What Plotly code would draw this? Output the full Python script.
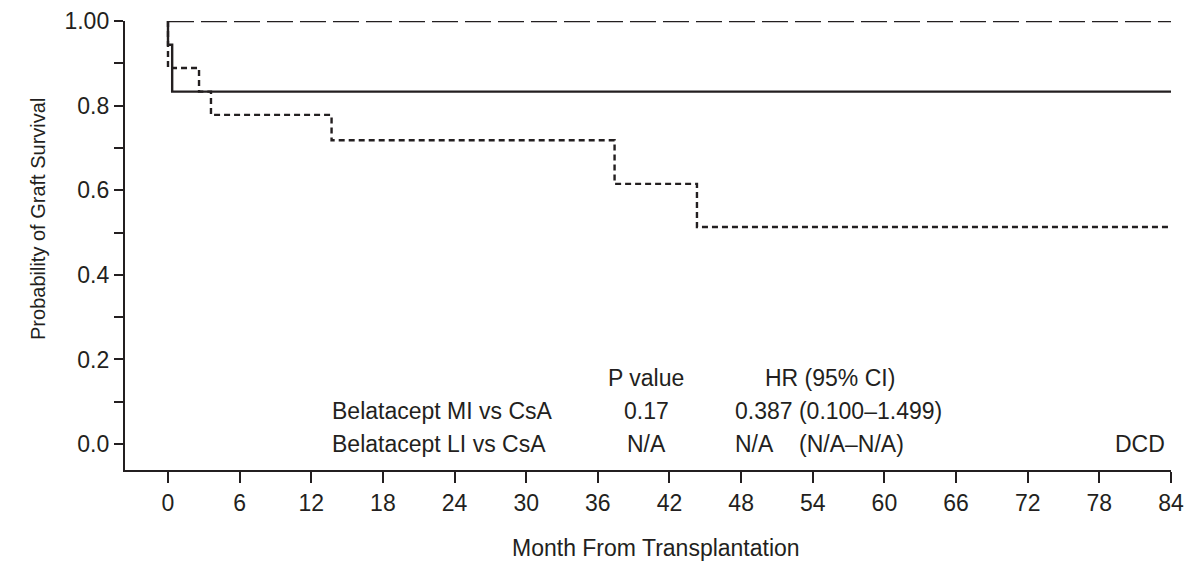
import plotly.graph_objects as go

# Kaplan-Meier step data (months, survival probability)
mi_t = [0, 0, 0.35, 84]
mi_s = [1.0, 0.944, 0.833, 0.833]

li_t = [0, 84]
li_s = [1.0, 1.0]

csa_t = [0, 0, 2.6, 3.6, 13.7, 37.4, 44.3, 84]
csa_s = [1.0, 0.889, 0.833, 0.778, 0.718, 0.615, 0.513, 0.513]

x_ticks = list(range(0, 85, 6))
y_tickvals = [i / 10 for i in range(11)]
y_ticktext = ["0.0", "", "0.2", "", "0.4", "", "0.6", "", "0.8", "", "1.00"]

table_rows = ["Belatacept MI vs CsA", "Belatacept LI vs CsA"]
p_values = ["0.17", "N/A"]
hr_values = ["0.387 (0.100–1.499)", "N/A"]
ci_na = "(N/A–N/A)"

FONT = "Liberation Sans, Arial, Helvetica, sans-serif"
INK = "#231f20"
FS = 23

fig = go.Figure()
fig.add_trace(go.Scatter(x=li_t, y=li_s, mode="lines", line_shape="hv", name="Belatacept LI",
                         line=dict(color=INK, width=2.4, dash="26px,7px"), cliponaxis=False))
fig.add_trace(go.Scatter(x=csa_t, y=csa_s, mode="lines", line_shape="hv", name="CsA",
                         line=dict(color=INK, width=2.4, dash="6px,4px"), cliponaxis=False))
fig.add_trace(go.Scatter(x=mi_t, y=mi_s, mode="lines", line_shape="hv", name="Belatacept MI",
                         line=dict(color=INK, width=2.4), cliponaxis=False))

ann = []
def txt(x, y, s, xa="left", xref="x", yref="y", angle=0, size=FS):
    ann.append(dict(x=x, y=y, xref=xref, yref=yref, text=s, showarrow=False,
                    xanchor=xa, yanchor="middle", textangle=angle,
                    font=dict(family=FONT, size=size, color=INK)))

txt(40.05, 0.157, "P value", "center")
txt(55.47, 0.157, "HR (95% CI)", "center")
txt(13.6, 0.079, table_rows[0])
txt(13.6, 0.0, table_rows[1])
txt(40.05, 0.079, p_values[0], "center")
txt(40.05, 0.0, p_values[1], "center")
txt(47.35, 0.079, hr_values[0])
txt(47.35, 0.0, hr_values[1])
txt(52.7, 0.0, ci_na)
txt(83.7, 0.0, "DCD", "right")
txt(0.508, -0.1744, "Month From Transplantation", "center", "paper", "paper")
txt(-0.0832, 0.559, "Probability of Graft Survival", "center", "paper", "paper", -90, 20)

fig.update_layout(
    width=1186, height=564,
    margin=dict(l=125, r=15.3, t=20.5, b=93.5, autoexpand=False),
    paper_bgcolor="white", plot_bgcolor="white",
    showlegend=False,
    font=dict(family=FONT, size=FS, color=INK),
    annotations=ann,
    xaxis=dict(range=[-3.6, 84], tickvals=x_ticks, showline=True, linecolor=INK, linewidth=2.4,
               ticks="outside", ticklen=11, tickwidth=2.4, tickcolor=INK, showgrid=False,
               zeroline=False, automargin=False, tickfont=dict(family=FONT, size=FS, color=INK)),
    yaxis=dict(range=[-0.0613, 1.0], tickvals=y_tickvals, ticktext=y_ticktext, showline=True,
               linecolor=INK, linewidth=2.4, ticks="outside", ticklen=9, tickwidth=2.4,
               tickcolor=INK, showgrid=False, zeroline=False, automargin=False,
               tickfont=dict(family=FONT, size=FS, color=INK)),
)

fig.write_html("out.html", config={"displayModeBar": False},
               post_script="document.body.style.margin='0';")
